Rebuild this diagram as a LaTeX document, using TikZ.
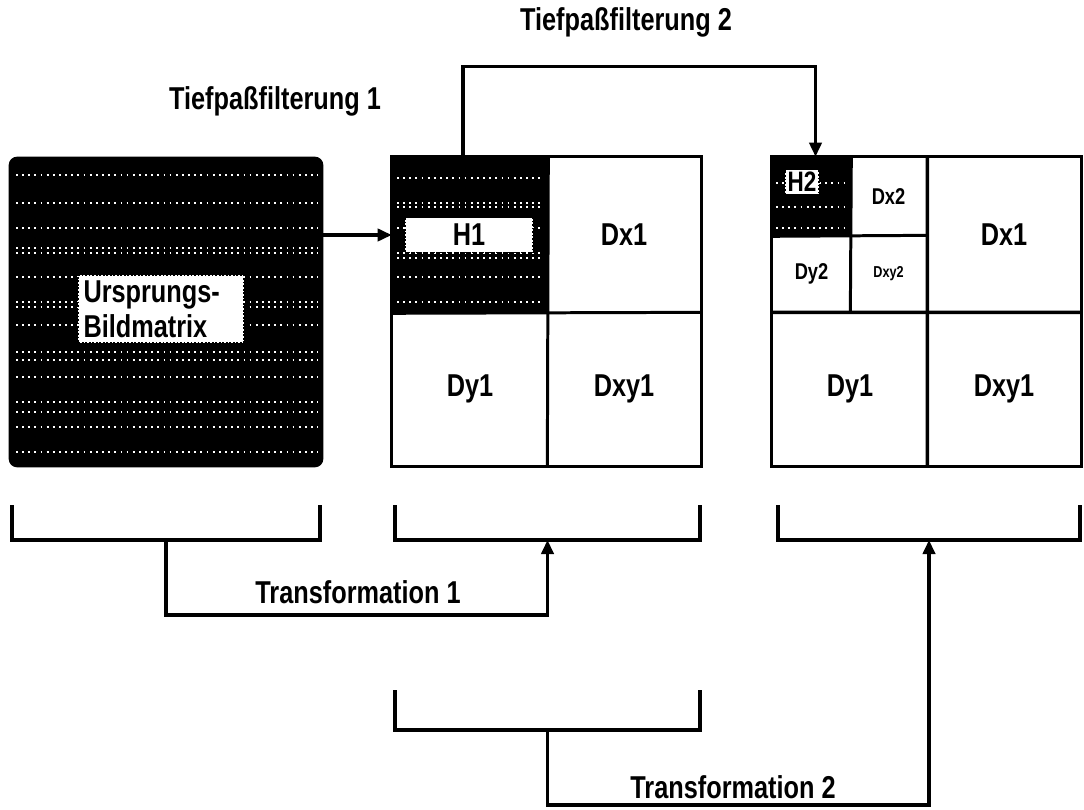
\documentclass[tikz,border=0pt]{standalone}
\usepackage{fontspec}
\setmainfont{Liberation Sans}[FakeStretch=0.8]
\usetikzlibrary{arrows.meta}

\begin{document}
\begin{tikzpicture}[x=0.02cm, y=-0.02cm,
        lbl/.style={font=\fontsize{18}{20}\selectfont\bfseries},
        dark/.style={rectangle, fill=black, draw=black, line width=1.5pt, minimum width=3.08cm, minimum height=3.08cm},
        quad/.style={rectangle, fill=white, minimum width=3.08cm, minimum height=3.08cm, font=\fontsize{18}{20}\selectfont\bfseries},
        small/.style={quad, minimum width=1.54cm, minimum height=1.54cm, font=\fontsize{13}{15}\selectfont\bfseries},
        tag/.style={rectangle, fill=white, draw=black, dash pattern=on 1pt off 1pt, line width=1pt, inner sep=3pt, font=\fontsize{18}{20}\selectfont\bfseries},
        dots/.style={white, line width=1pt, dash pattern=on 1pt off 2.5pt},
        frame/.style={draw, line width=2pt},
        split/.style={draw, line width=1.7pt},
        conn/.style={draw, line width=1.8pt},
        tip/.style={-{Triangle[length=8pt, width=7pt]}}]
    \useasboundingbox (0,0) rectangle (1084,810);

    \node[dark, minimum width=6.24cm, minimum height=6.16cm, rounded corners=4pt] (orig) at (166,312) {};
    \foreach \y in {175,203,228,248,253,277,302,307,325,352,360,377,402,412,427,452}
        \draw[dots] (16,\y) -- (318,\y);
    \node[tag, text width=3.1cm, align=left] (origtxt) at (161,309) {Ursprungs-\\Bildmatrix};

    \node[dark] (h1q) at (470,235) {};
    \node[quad] (dx1a) at (624,235) {Dx1};
    \node[quad] (dy1a) at (470,389) {Dy1};
    \node[quad] (dxy1a) at (624,389) {Dxy1};
    \foreach \y in {178,203,207,228,253,258,277,302}
        \draw[dots] (397,\y) -- (543,\y);
    \node[tag, minimum width=2.56cm, minimum height=0.7cm] (h1) at (469,235) {H1};
    \draw[split] (h1q.north east) -- (dy1a.south east);
    \draw[split] (h1q.south west) -- (dx1a.south east);
    \draw[frame] (h1q.north west) rectangle (dxy1a.south east);

    \node[dark, minimum width=1.54cm, minimum height=1.54cm] (h2q) at (811.5,196.5) {};
    \node[small] (dx2) at (888.5,196.5) {Dx2};
    \node[small] (dy2) at (811.5,273.5) {Dy2};
    \node[small, font=\fontsize{9}{10}\selectfont\bfseries] (dxy2) at (888.5,273.5) {Dxy2};
    \node[quad] (dx1b) at (1004,235) {Dx1};
    \node[quad] (dy1b) at (850,389) {Dy1};
    \node[quad] (dxy1b) at (1004,389) {Dxy1};
    \foreach \y in {183,207,228}
        \draw[dots] (776,\y) -- (848,\y);
    \node[tag, font=\fontsize{16}{18}\selectfont\bfseries, inner sep=1.5pt] (h2) at (802,182) {H2};
    \draw[split] (h2q.north east) -- (dy2.south east);
    \draw[split] (h2q.south west) -- (dx2.south east);
    \draw[frame] (dx2.north east) -- (dy1b.south east);
    \draw[frame] (dy2.south west) -- (dx1b.south east);
    \draw[frame] (h2q.north west) rectangle (dxy1b.south east);

    \node[lbl] (tp1) at (275,101) {Tiefpaßfilterung 1};
    \node[lbl] (tp2) at (626,22) {Tiefpaßfilterung 2};
    \node[lbl] (tr1) at (358,592) {Transformation 1};
    \node[lbl] (tr2) at (733,787) {Transformation 2};

    \draw[conn, tip] (orig.east |- h1q.west) -- (h1q.west);
    \draw[conn, tip] ([xshift=-0.14cm]h1q.north) -- ++(0,-90) -| ([xshift=0.08cm]h2q.north);

    \foreach \n/\l/\r/\t/\d in {1/12/320/505/35, 2/395/700/505/35, 3/778/1080/505/35, 4/395/700/690/40} {
        \coordinate (b\n l) at (\l,\t);
        \coordinate (b\n r) at (\r,\t);
        \coordinate (b\n m) at ({(\l+\r)/2},{\t+\d});
        \draw[conn] (b\n l) -- ++(0,\d) -| (b\n r);
    }
    \draw[conn, tip] (b1m) -- ++(0,75) -| (b2m);
    \draw[conn, tip] (b4m) -- ++(0,75) -| (b3m);
\end{tikzpicture}
\end{document}
